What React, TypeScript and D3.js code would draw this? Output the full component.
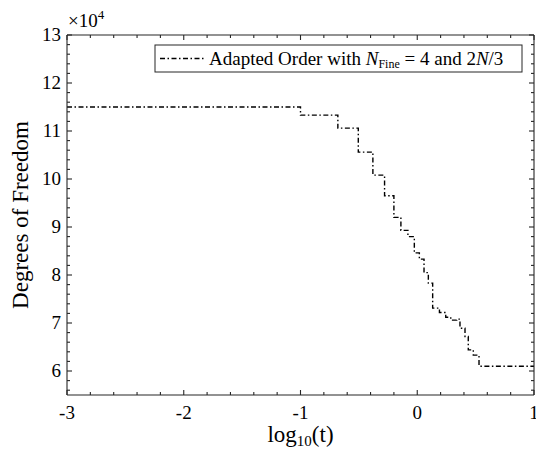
import React from "react";
import * as d3 from "d3";

const stepX = [-3, -1.0, -0.68, -0.505, -0.38, -0.28, -0.2, -0.14, -0.08, -0.025, 0.018, 0.058, 0.095, 0.132, 0.19, 0.244, 0.287, 0.338, 0.366, 0.409, 0.437, 0.48, 0.529, 1];
const dofE4 = [11.5, 11.33, 11.06, 10.56, 10.08, 9.65, 9.2, 8.93, 8.8, 8.46, 8.33, 8.05, 7.83, 7.31, 7.22, 7.12, 7.06, 7.08, 6.89, 6.72, 6.44, 6.33, 6.1, 6.1];
const xTicks = [-3, -2, -1, 0, 1];
const yTicks = [6, 7, 8, 9, 10, 11, 12, 13];
const seriesLabel = "Adapted Order with ";

const W = 536, H = 453;
const L = 67, R = 534, T = 35, B = 395;
const FONT = "Liberation Serif, DejaVu Serif, Times New Roman, serif";
const AX = "#262626";

export default function App() {
  const x = d3.scaleLinear().domain([-3, 1]).range([L, R]);
  const y = d3.scaleLinear().domain([5.5, 13]).range([B, T]);
  const pts = stepX.map((v, i) => [v, dofE4[i]] as [number, number]);
  const line = d3.line<[number, number]>().x(d => x(d[0])).y(d => y(d[1])).curve(d3.curveStepAfter);
  const xMinor = d3.range(-3, 1.0001, 0.2);
  const yMinor = d3.range(5.6, 13.0001, 0.2);
  const ts = { fontFamily: FONT } as React.CSSProperties;
  return (
    <svg width={W} height={H} style={{ position: "absolute", left: 0, top: 0, background: "#fff" }}>
      <rect x={0} y={0} width={W} height={H} fill="#fff" />
      <path d={line(pts) || ""} fill="none" stroke="#000" strokeWidth={1.4} strokeDasharray="5,2.5,1.5,2.5" />
      <g stroke={AX} strokeWidth={1.1} fill="none">
        <line x1={L} y1={B} x2={R} y2={B} />
        <line x1={L} y1={T} x2={R} y2={T} />
        <line x1={L} y1={T} x2={L} y2={B} />
        <line x1={R} y1={T} x2={R} y2={B} />
        {xMinor.map((v, i) => {
          const major = Math.abs(v - Math.round(v)) < 1e-6;
          const len = major ? 5 : 3;
          return (
            <g key={"xt" + i}>
              <line x1={x(v)} x2={x(v)} y1={B} y2={B - len} />
              <line x1={x(v)} x2={x(v)} y1={T} y2={T + len} />
            </g>
          );
        })}
        {yMinor.map((v, i) => {
          const major = Math.abs(v - Math.round(v)) < 1e-6;
          const len = major ? 5 : 3;
          return (
            <g key={"yt" + i}>
              <line x1={L} x2={L + len} y1={y(v)} y2={y(v)} />
              <line x1={R} x2={R - len} y1={y(v)} y2={y(v)} />
            </g>
          );
        })}
      </g>
      <g style={ts} fontSize={19} fill="#000">
        {xTicks.map(v => (
          <text key={"xl" + v} x={x(v)} y={B + 24} textAnchor="middle" style={ts}>{v}</text>
        ))}
        {yTicks.map(v => (
          <text key={"yl" + v} x={L - 6} y={y(v) + 6} textAnchor="end" style={ts}>{v}</text>
        ))}
        <text x={L + 1} y={T - 8} style={ts}>×10<tspan dy={-8} fontSize={13}>4</tspan></text>
        <text x={(L + R) / 2} y={442} textAnchor="middle" fontSize={23} style={ts}>log<tspan fontSize={15} dy={4}>10</tspan><tspan dy={-4}>(t)</tspan></text>
        <text transform={`translate(28,${(T + B) / 2}) rotate(-90)`} textAnchor="middle" fontSize={23} style={ts}>Degrees of Freedom</text>
      </g>
      <g>
        <rect x={155} y={45} width={367} height={27} fill="#fff" stroke={AX} strokeWidth={1} />
        <line x1={160} x2={205} y1={58.5} y2={58.5} stroke="#000" strokeWidth={1.4} strokeDasharray="5,2.5,1.5,2.5" />
        <text x={209} y={65} fontSize={19} fill="#000" style={ts}>
          {seriesLabel}
          <tspan fontStyle="italic">N</tspan>
          <tspan fontSize={12} dy={3}>Fine</tspan>
          <tspan dy={-3}> = 4 and 2</tspan>
          <tspan fontStyle="italic">N</tspan>
          <tspan>/3</tspan>
        </text>
      </g>
    </svg>
  );
}
